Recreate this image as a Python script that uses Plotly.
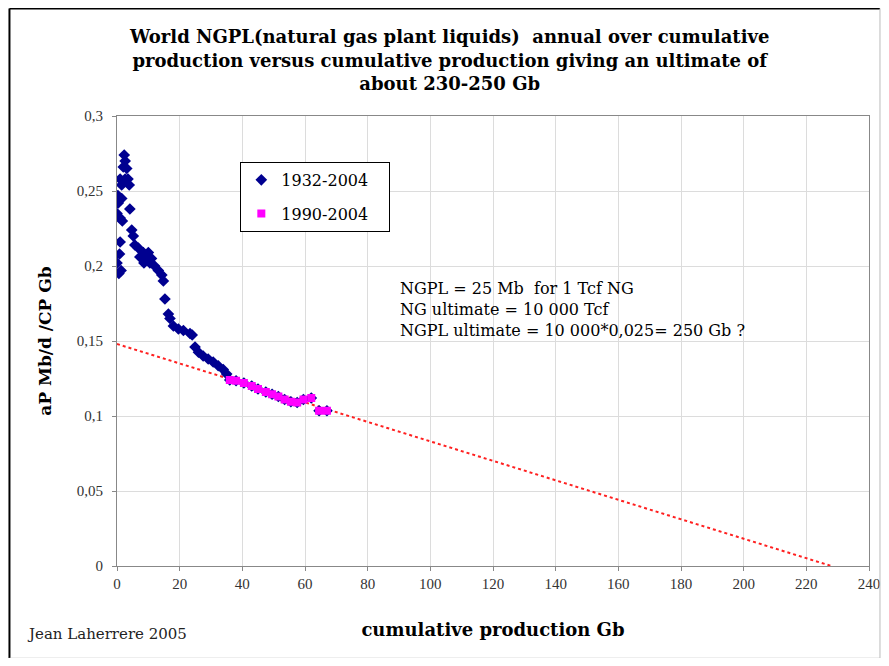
import plotly.graph_objects as go

# 1932-2004: cumulative production (Gb) vs annual/cumulative ratio
blue_x = [0.0, 0.0, 0.3, 0.4, 0.6, 0.8, 1.0, 1.0, 1.0, 1.3, 1.5, 1.5, 1.7, 2.0, 2.3, 2.6, 2.6,
          3.1, 3.5, 3.9, 4.1, 4.7, 5.2, 5.7, 6.8, 7.3, 8.4, 8.6, 9.5, 10.0, 10.5, 11.0, 12.0,
          13.2, 14.3, 14.8, 15.3, 16.4, 16.9, 18.0, 19.6, 21.2, 23.3, 24.0, 24.9, 26.0, 27.5,
          29.1, 30.7, 32.3, 33.9, 35.0,
          36.0, 38.0, 40.5, 43.0, 45.0, 47.5, 49.5, 51.5, 53.5, 55.5, 57.5, 59.5, 62.0, 64.5, 67.0]
blue_y = [0.235, 0.202, 0.247, 0.242, 0.195, 0.208, 0.216, 0.232, 0.258, 0.197, 0.254, 0.245,
          0.230, 0.266, 0.274, 0.270, 0.258, 0.265, 0.258, 0.254, 0.238, 0.224, 0.220, 0.214,
          0.212, 0.206, 0.209, 0.202, 0.205, 0.209, 0.202, 0.205, 0.200, 0.197, 0.194, 0.190,
          0.178, 0.168, 0.165, 0.160, 0.158, 0.157, 0.155, 0.154, 0.146, 0.1425, 0.140, 0.138,
          0.136, 0.1335, 0.131, 0.128,
          0.124, 0.1235, 0.122, 0.120, 0.118, 0.116, 0.1145, 0.113, 0.111, 0.1095, 0.109,
          0.111, 0.112, 0.1035, 0.1035]

# 1990-2004
mag_x = [36.0, 38.0, 40.5, 43.0, 45.0, 47.5, 49.5, 51.5, 53.5, 55.5, 57.5, 59.5, 62.0, 64.5, 67.0]
mag_y = [0.124, 0.1235, 0.122, 0.120, 0.118, 0.116, 0.1145, 0.113, 0.111, 0.1095, 0.109,
         0.111, 0.112, 0.1035, 0.1035]

# linear trend
trend_x = [0, 228]
trend_y = [0.148, 0]

SERIF = "DejaVu Serif"
TIMES = "Liberation Serif"
PAD = "\u00a0\u00a0\u00a0"

fig = go.Figure()
fig.add_trace(go.Scatter(x=trend_x, y=trend_y, mode="lines", showlegend=False,
                         line=dict(color="#ff2020", width=2, dash="dot")))
fig.add_trace(go.Scatter(x=blue_x, y=blue_y, mode="markers", name="1932-2004" + PAD,
                         legendgroup="a",
                         marker=dict(symbol="diamond", size=9, color="#000090")))
fig.add_trace(go.Scatter(x=mag_x, y=mag_y, mode="markers", name="1990-2004" + PAD,
                         legendgroup="b",
                         marker=dict(symbol="square", size=8, color="#ff00ff")))

title = ("<b>World NGPL(natural gas plant liquids)  annual over cumulative<br>"
         "production versus cumulative production giving an ultimate of<br>"
         "about 230-250 Gb</b>")

# page body adds an 8px margin, so the figure is 16px smaller than the window
fig.update_layout(
    width=873, height=650,
    margin=dict(l=109, r=12, t=108, b=92),
    paper_bgcolor="white", plot_bgcolor="white",
    separators=", ",
    font=dict(family=TIMES, size=15, color="#333"),
    title=dict(text=title, x=0.506, xanchor="center", y=0.946, yanchor="top",
               font=dict(family=SERIF, size=18, color="black")),
    showlegend=True,
    legend=dict(x=0.164, y=0.898, xanchor="left", yanchor="top",
                bordercolor="black", borderwidth=1, bgcolor="white",
                tracegroupgap=10, font=dict(family=SERIF, size=16, color="black")),
    xaxis=dict(range=[0, 240], dtick=20, showgrid=True, gridcolor="#dcdcdc",
               showline=True, linecolor="#888", mirror=True, zeroline=False,
               ticks="outside", ticklen=4, tickcolor="#888", automargin=False,
               title=dict(text="<b>cumulative production Gb</b>", standoff=32,
                          font=dict(family=SERIF, size=18, color="black"))),
    yaxis=dict(range=[0, 0.3], dtick=0.05, showgrid=True, gridcolor="#dcdcdc",
               showline=True, linecolor="#888", mirror=True, zeroline=False,
               ticks="outside", ticklen=4, tickcolor="#888", automargin=False,
               ticklabelstandoff=6,
               title=dict(text="<b>aP Mb/d /CP Gb</b>", standoff=20,
                          font=dict(family=SERIF, size=17, color="black"))),
)

fig.add_annotation(xref="paper", yref="paper", x=0.374, y=0.642, xanchor="left", yanchor="top",
                   showarrow=False, align="left",
                   text="NGPL = 25 Mb  for 1 Tcf NG<br>NG ultimate = 10 000 Tcf<br>"
                        "NGPL ultimate = 10 000*0,025= 250 Gb ?",
                   font=dict(family=SERIF, size=16, color="black"))
fig.add_annotation(xref="paper", yref="paper", x=-0.122, y=-0.151, xanchor="left", yanchor="middle",
                   showarrow=False, text="Jean Laherrere 2005",
                   font=dict(family=SERIF, size=15, color="#222"))

# outer frame
fig.add_shape(type="line", xref="paper", yref="paper", x0=-0.143, x1=-0.143, y0=-0.205, y1=1.239,
              line=dict(color="black", width=2))
fig.add_shape(type="line", xref="paper", yref="paper", x0=-0.143, x1=1.0146, y0=1.239, y1=1.239,
              line=dict(color="black", width=2))
fig.add_shape(type="line", xref="paper", yref="paper", x0=1.0146, x1=1.0146, y0=-0.205, y1=1.239,
              line=dict(color="#bbb", width=1))
fig.add_shape(type="line", xref="paper", yref="paper", x0=-0.143, x1=1.0146, y0=-0.205, y1=-0.205,
              line=dict(color="#bbb", width=1))

fig.write_html("out.html")
